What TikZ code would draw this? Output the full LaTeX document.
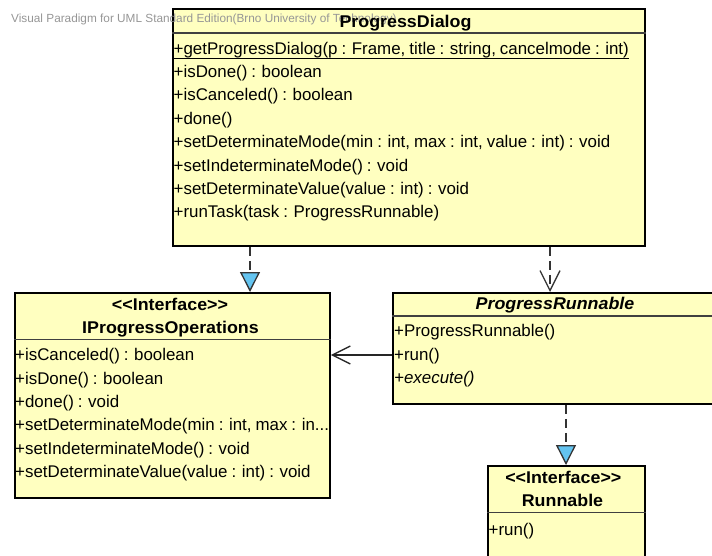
\documentclass[tikz,border=0pt]{standalone}
\usepackage{fontspec}
\setmainfont{Liberation Sans}
\newfontfamily\headfont{Liberation Sans}[FakeStretch=1.05,Ligatures=TeXOff]
\usetikzlibrary{arrows.meta}
\definecolor{umlfill}{RGB}{255,255,192}
\definecolor{umlblue}{RGB}{100,196,240}
\definecolor{wmgray}{RGB}{150,150,150}
\newcommand\memberfont{\fontsize{16.9}{20}\selectfont\spaceskip=4pt\relax}
\begin{document}
\begin{tikzpicture}[x=1pt,y=-1pt,
  classbox/.style={draw=black,line width=1.8pt,fill=umlfill,rectangle,inner sep=0pt,anchor=north west},
  member/.style={anchor=base west,inner sep=0pt,font=\memberfont},
  abstractmember/.style={member,font=\memberfont\itshape},
  headtitle/.style={anchor=base,inner sep=0pt,font=\headfont\bfseries\fontsize{17}{20}\selectfont},
  abstracttitle/.style={headtitle,font=\headfont\bfseries\itshape\fontsize{17}{20}\selectfont},
  sepline/.style={line width=1.6pt,draw=black!75},
  watermark/.style={anchor=base west,inner sep=0pt,text=wmgray,font=\fontsize{11.8}{13}\selectfont},
  dashline/.style={line width=1.3pt,draw=black!80,dash pattern=on 9pt off 5pt},
  realize/.style={dashline,-{Triangle[length=20pt,width=20pt,fill=umlblue]}},
  depend/.style={dashline,-{Straight Barb[length=20pt,width=20pt]}},
  assoc/.style={line width=1.4pt,draw=black!85,-{Straight Barb[length=18pt,width=18pt]}}
]
\clip (0,0) rectangle (712,555);

% class boxes
\node[classbox,minimum width=472pt,minimum height=237pt] (PD) at (172,8) {};
\node[classbox,minimum width=315pt,minimum height=205pt] (IPO) at (14,292) {};
\node[classbox,minimum width=326pt,minimum height=111pt] (PR) at (392,292) {};
\node[classbox,minimum width=157pt,minimum height=120pt] (RN) at (487,465) {};

% compartment separators
\draw[sepline] ([yshift=-25pt]PD.north west) -- ([yshift=-25pt]PD.north east);
\draw[sepline] ([yshift=-47.3pt]IPO.north west) -- ([yshift=-47.3pt]IPO.north east);
\draw[sepline] ([yshift=-24pt]PR.north west) -- ([yshift=-24pt]PR.north east);
\draw[sepline] ([yshift=-47.3pt]RN.north west) -- ([yshift=-47.3pt]RN.north east);

% tool watermark
\node[watermark] (wm) at (11,22) {Visual Paradigm for UML Standard Edition(Brno University of Technology)};

% ProgressDialog
\node[headtitle] (pdT) at (405.5,27.3) {ProgressDialog};
\node[member] (pd1) at (173.5,54) {+getProgressDialog(p : Frame, title : string, cancelmode : int)};
\draw[line width=1.1pt] ([yshift=-4.7pt]pd1.base west) -- ([yshift=-4.7pt]pd1.base east);
\node[member] (pd2) at (173.5,77.4) {+isDone() : boolean};
\node[member] (pd3) at (173.5,100.8) {+isCanceled() : boolean};
\node[member] (pd4) at (173.5,124.2) {+done()};
\node[member] (pd5) at (173.5,147.6) {+setDeterminateMode(min : int, max : int, value : int) : void};
\node[member] (pd6) at (173.5,171) {+setIndeterminateMode() : void};
\node[member] (pd7) at (173.5,194.4) {+setDeterminateValue(value : int) : void};
\node[member] (pd8) at (173.5,217.8) {+runTask(task : ProgressRunnable)};

% IProgressOperations
\node[headtitle] (ipoS) at (170,310.7) {<<Interface>>};
\node[headtitle] (ipoT) at (170.5,333.3) {IProgressOperations};
\node[member] (ipo1) at (15,360.7) {+isCanceled() : boolean};
\node[member] (ipo2) at (15,384) {+isDone() : boolean};
\node[member] (ipo3) at (15,407.3) {+done() : void};
\node[member] (ipo4) at (15,430.7) {+setDeterminateMode(min : int, max : in...};
\node[member] (ipo5) at (15,454) {+setIndeterminateMode() : void};
\node[member] (ipo6) at (15,477.3) {+setDeterminateValue(value : int) : void};

% ProgressRunnable
\node[abstracttitle] (prT) at (555,309.3) {ProgressRunnable};
\node[member] (pr1) at (394,336.7) {+ProgressRunnable()};
\node[member] (pr2) at (394,360) {+run()};
\node[abstractmember] (pr3) at (394,383.3) {+execute()};

% Runnable
\node[headtitle] (rnS) at (563.3,483.3) {<<Interface>>};
\node[headtitle] (rnT) at (562.5,506) {Runnable};
\node[member] (rn1) at (488.5,535) {+run()};

% relationships
\coordinate (r1) at (250,0);
\coordinate (d1) at (550,0);
\coordinate (a1) at (0,355);
\coordinate (r2) at (566,0);
\draw[realize] (PD.south -| r1) -- (IPO.north -| r1);
\draw[depend] (PD.south -| d1) -- (PR.north -| d1);
\draw[assoc] (PR.west |- a1) -- (IPO.east |- a1);
\draw[realize] (PR.south -| r2) -- (RN.north -| r2);
\end{tikzpicture}
\end{document}
